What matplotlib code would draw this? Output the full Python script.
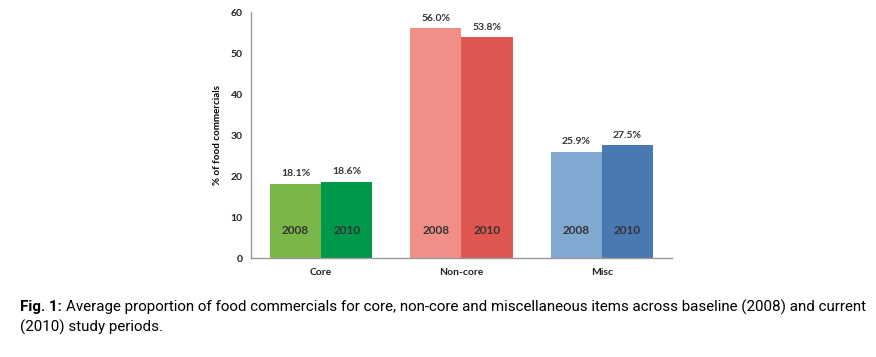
import matplotlib.pyplot as plt
import numpy as np

categories = ['Core', 'Non-core', 'Misc']
years = ['2008', '2010']
vals_2008 = [18.1, 56.0, 25.9]
vals_2010 = [18.6, 53.8, 27.5]
colors_2008 = ['#7ab648', '#f08f88', '#80a8d0']
colors_2010 = ['#00984a', '#e05651', '#4a78b0']

caption_bold = 'Fig. 1:'
caption_1 = 'Average proportion of food commercials for core, non-core and miscellaneous items across baseline (2008) and current'
caption_2 = '(2010) study periods.'

plt.rcParams['font.family'] = ['Lato', 'DejaVu Sans']

fig = plt.figure(figsize=(8.76, 3.57), dpi=100)
ax = fig.add_axes([0.2865, 0.2773, 0.4806, 0.689])

x = np.arange(len(categories))
w = 0.364
b1 = ax.bar(x - w / 2, vals_2008, w, color=colors_2008)
b2 = ax.bar(x + w / 2, vals_2010, w, color=colors_2010)

for bars, vals, yr in [(b1, vals_2008, years[0]), (b2, vals_2010, years[1])]:
    for b, v in zip(bars, vals):
        cx = b.get_x() + b.get_width() / 2
        ax.text(cx, v + 1.4, '%.1f%%' % v, ha='center', va='bottom',
                fontsize=7.5, fontweight='bold', color='#333333')
        ax.text(cx, 6.8, yr, ha='center', va='center', fontsize=8.5,
                fontweight='bold', color='#333333')

ax.set_xlim(-0.5, 2.5)
ax.set_ylim(0, 60)
ax.set_yticks(range(0, 61, 10))
ax.set_xticks(x)
ax.set_xticklabels(categories, fontsize=7.5, fontweight='bold', color='#222222')
ax.tick_params(axis='y', labelsize=7.5, length=0, pad=6, labelcolor='#222222')
ax.tick_params(axis='x', length=0, pad=7)
for t in ax.get_yticklabels():
    t.set_fontweight('bold')
ax.set_ylabel('% of food commercials', fontsize=7, fontweight='bold', labelpad=6)
for s in ['top', 'right']:
    ax.spines[s].set_visible(False)
for s in ['left', 'bottom']:
    ax.spines[s].set_color('#999999')
    ax.spines[s].set_linewidth(1)

# caption: fit first line between x=20 and x=870 px
cap_font = ['Roboto', 'DejaVu Sans']
fs = 10
tb = fig.text(20 / 876, 0.14, caption_bold, fontsize=fs, fontweight='bold',
              family=cap_font, va='center')
t1 = fig.text(0.1, 0.14, caption_1, fontsize=fs, family=cap_font, va='center')
r = fig.canvas.get_renderer()
wb = tb.get_window_extent(r).width
w1 = t1.get_window_extent(r).width
gap = 4
fs = fs * 850 / (wb + w1 + gap)
tb.set_fontsize(fs)
t1.set_fontsize(fs)
wb = tb.get_window_extent(r).width
t1.set_x((20 + wb + gap) / 876)
fig.text(20 / 876, 0.083, caption_2, fontsize=fs, family=cap_font, va='center')

fig.savefig('out.png', dpi=100)
